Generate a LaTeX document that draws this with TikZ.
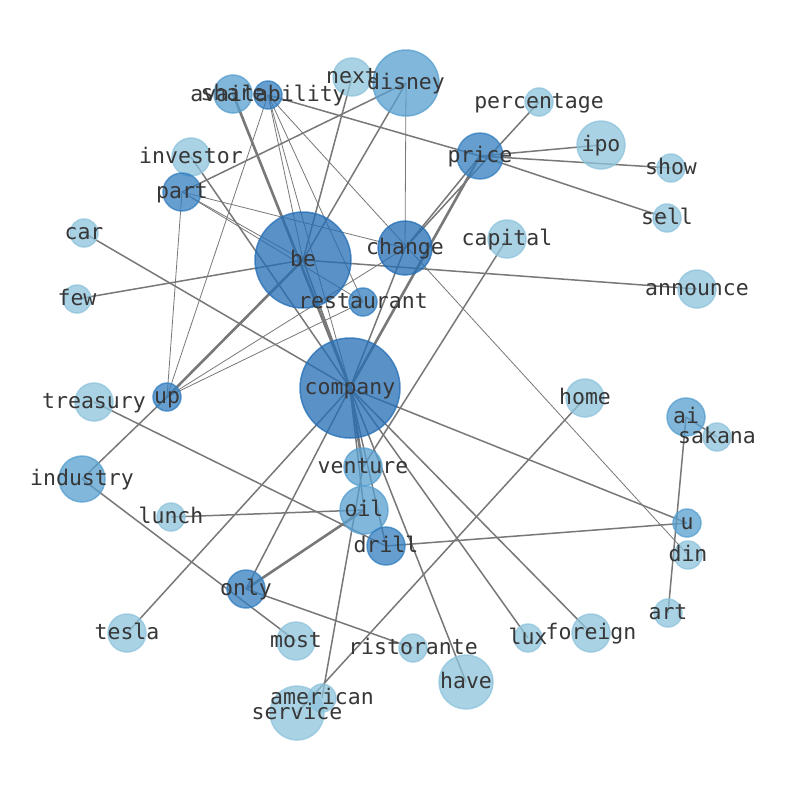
\documentclass[tikz,border=0pt]{standalone}
\usepackage{fontspec}
\setmonofont{DejaVu Sans Mono}
\definecolor{nodeA}{RGB}{142,196,221}
\definecolor{nodeB}{RGB}{88,160,208}
\definecolor{nodeC}{RGB}{52,127,192}
\definecolor{nodeD}{RGB}{36,110,182}
\definecolor{edgegray}{RGB}{120,120,120}
\definecolor{labelgray}{RGB}{55,55,55}
\pgfdeclarelayer{edges}
\pgfsetlayers{edges,main}
\tikzset{
  word/.style={circle,inner sep=0pt,line width=1.5pt,opacity=.75},
  wa/.style={word,fill=nodeA,draw=nodeA},
  wb/.style={word,fill=nodeB,draw=nodeB},
  wc/.style={word,fill=nodeC,draw=nodeC},
  wd/.style={word,fill=nodeD,draw=nodeD},
  lbl/.style={text=labelgray,inner sep=0pt,text height=15.5pt,text depth=3.5pt,font=\ttfamily\fontsize{21.5}{22}\selectfont},
  link/.style={draw=edgegray,line width=1.5pt},
  thinlink/.style={draw=edgegray,line width=.8pt},
  thicklink/.style={draw=edgegray,line width=2.6pt}
}
\begin{document}
\begin{tikzpicture}[x=1pt,y=-1pt]
\useasboundingbox (0,0) rectangle (794,790);
        \node[wd,minimum size=100pt] (company) at (350,388) {};
        \node[wd,minimum size=96pt] (be) at (303,260) {};
        \node[wd,minimum size=54pt] (change) at (405,248) {};
        \node[wc,minimum size=46pt] (price) at (480,156) {};
        \node[wb,minimum size=66pt] (disney) at (406,83) {};
        \node[wa,minimum size=38pt] (next) at (352,77) {};
        \node[wb,minimum size=38pt] (share) at (233,94) {};
        \node[wc,minimum size=28pt] (availability) at (268,95) {};
        \node[wa,minimum size=38pt] (investor) at (191,157) {};
        \node[wc,minimum size=38pt] (part) at (182,192) {};
        \node[wa,minimum size=28pt] (car) at (84,233) {};
        \node[wa,minimum size=28pt] (few) at (77,299) {};
        \node[wc,minimum size=28pt] (restaurant) at (363,302) {};
        \node[wa,minimum size=38pt] (capital) at (507,239) {};
        \node[wa,minimum size=28pt] (percentage) at (539,102) {};
        \node[wa,minimum size=48pt] (ipo) at (601,145) {};
        \node[wa,minimum size=28pt] (show) at (671,168) {};
        \node[wa,minimum size=28pt] (sell) at (667,218) {};
        \node[wa,minimum size=38pt] (announce) at (697,289) {};
        \node[wa,minimum size=38pt] (treasury) at (94,402) {};
        \node[wc,minimum size=28pt] (up) at (167,397) {};
        \node[wb,minimum size=46pt] (industry) at (82,479) {};
        \node[wb,minimum size=38pt] (venture) at (363,467) {};
        \node[wb,minimum size=48pt] (oil) at (364,510) {};
        \node[wc,minimum size=38pt] (drill) at (386,546) {};
        \node[wa,minimum size=28pt] (lunch) at (171,517) {};
        \node[wc,minimum size=38pt] (only) at (246,589) {};
        \node[wa,minimum size=38pt] (tesla) at (127,633) {};
        \node[wa,minimum size=38pt] (most) at (296,641) {};
        \node[wa,minimum size=28pt] (ristorante) at (413,648) {};
        \node[wa,minimum size=54pt] (have) at (466,682) {};
        \node[wa,minimum size=54pt] (service) at (297,713) {};
        \node[wa,minimum size=28pt] (american) at (322,698) {};
        \node[wa,minimum size=28pt] (lux) at (528,638) {};
        \node[wa,minimum size=38pt] (foreign) at (591,633) {};
        \node[wa,minimum size=38pt] (home) at (585,398) {};
        \node[wb,minimum size=38pt] (ai) at (686,417) {};
        \node[wa,minimum size=28pt] (sakana) at (717,437) {};
        \node[wb,minimum size=28pt] (u) at (687,523) {};
        \node[wa,minimum size=28pt] (din) at (688,555) {};
        \node[wa,minimum size=28pt] (art) at (668,613) {};
\begin{pgfonlayer}{edges}
        \fill[white] (0,0) rectangle (794,790);
        \draw[thinlink] (availability.center) -- (up.center);
        \draw[thinlink] (availability.center) -- (be.center);
        \draw[thinlink] (availability.center) -- (company.center);
        \draw[thinlink] (availability.center) -- (restaurant.center);
        \draw[thinlink] (availability.center) -- (din.center);
        \draw[thinlink] (part.center) -- (be.center);
        \draw[thinlink] (part.center) -- (change.center);
        \draw[thinlink] (part.center) -- (restaurant.center);
        \draw[thinlink] (part.center) -- (up.center);
        \draw[thinlink] (up.center) -- (change.center);
        \draw[thinlink] (up.center) -- (restaurant.center);
        \draw[thinlink] (disney.center) -- (change.center);
        \draw[link] (availability.center) -- (price.center);
        \draw[link] (part.center) -- (disney.center);
        \draw[link] (investor.center) -- (company.center);
        \draw[link] (next.center) -- (be.center);
        \draw[link] (be.center) -- (disney.center);
        \draw[link] (be.center) -- (few.center);
        \draw[link] (be.center) -- (announce.center);
        \draw[link] (be.center) -- (company.center);
        \draw[link] (car.center) -- (company.center);
        \draw[link] (tesla.center) -- (company.center);
        \draw[link] (only.center) -- (company.center);
        \draw[link] (industry.center) -- (up.center);
        \draw[link] (industry.center) -- (most.center);
        \draw[link] (only.center) -- (ristorante.center);
        \draw[link] (lunch.center) -- (oil.center);
        \draw[link] (treasury.center) -- (drill.center);
        \draw[link] (drill.center) -- (u.center);
        \draw[link] (company.center) -- (u.center);
        \draw[link] (company.center) -- (lux.center);
        \draw[link] (company.center) -- (foreign.center);
        \draw[link] (company.center) -- (have.center);
        \draw[link] (company.center) -- (oil.center);
        \draw[link] (company.center) -- (drill.center);
        \draw[link] (american.center) -- (venture.center);
        \draw[link] (service.center) -- (home.center);
        \draw[link] (capital.center) -- (venture.center);
        \draw[link] (change.center) -- (price.center);
        \draw[link] (percentage.center) -- (change.center);
        \draw[link] (change.center) -- (company.center);
        \draw[link] (price.center) -- (ipo.center);
        \draw[link] (price.center) -- (show.center);
        \draw[link] (price.center) -- (sell.center);
        \draw[link] (ai.center) -- (art.center);
        \draw[link] (ai.center) -- (sakana.center);
        \draw[thicklink] (share.center) -- (company.center);
        \draw[thicklink] (company.center) -- (venture.center);
        \draw[thicklink] (only.center) -- (oil.center);
        \draw[thicklink] (up.center) -- (be.center);
        \draw[thicklink] (company.center) -- (price.center);
\end{pgfonlayer}
        \node[lbl] (company-t) at (company) {company};
        \node[lbl] (be-t) at (be) {be};
        \node[lbl] (change-t) at (change) {change};
        \node[lbl] (price-t) at (price) {price};
        \node[lbl] (disney-t) at (disney) {disney};
        \node[lbl] (next-t) at (next) {next};
        \node[lbl] (share-t) at (share) {share};
        \node[lbl] (availability-t) at (availability) {availability};
        \node[lbl] (investor-t) at (investor) {investor};
        \node[lbl] (part-t) at (part) {part};
        \node[lbl] (car-t) at (car) {car};
        \node[lbl] (few-t) at (few) {few};
        \node[lbl] (restaurant-t) at (restaurant) {restaurant};
        \node[lbl] (capital-t) at (capital) {capital};
        \node[lbl] (percentage-t) at (percentage) {percentage};
        \node[lbl] (ipo-t) at (ipo) {ipo};
        \node[lbl] (show-t) at (show) {show};
        \node[lbl] (sell-t) at (sell) {sell};
        \node[lbl] (announce-t) at (announce) {announce};
        \node[lbl] (treasury-t) at (treasury) {treasury};
        \node[lbl] (up-t) at (up) {up};
        \node[lbl] (industry-t) at (industry) {industry};
        \node[lbl] (venture-t) at (venture) {venture};
        \node[lbl] (oil-t) at (oil) {oil};
        \node[lbl] (drill-t) at (drill) {drill};
        \node[lbl] (lunch-t) at (lunch) {lunch};
        \node[lbl] (only-t) at (only) {only};
        \node[lbl] (tesla-t) at (tesla) {tesla};
        \node[lbl] (most-t) at (most) {most};
        \node[lbl] (ristorante-t) at (ristorante) {ristorante};
        \node[lbl] (have-t) at (have) {have};
        \node[lbl] (service-t) at (service) {service};
        \node[lbl] (american-t) at (american) {american};
        \node[lbl] (lux-t) at (lux) {lux};
        \node[lbl] (foreign-t) at (foreign) {foreign};
        \node[lbl] (home-t) at (home) {home};
        \node[lbl] (ai-t) at (ai) {ai};
        \node[lbl] (sakana-t) at (sakana) {sakana};
        \node[lbl] (u-t) at (u) {u};
        \node[lbl] (din-t) at (din) {din};
        \node[lbl] (art-t) at (art) {art};
\end{tikzpicture}
\end{document}
